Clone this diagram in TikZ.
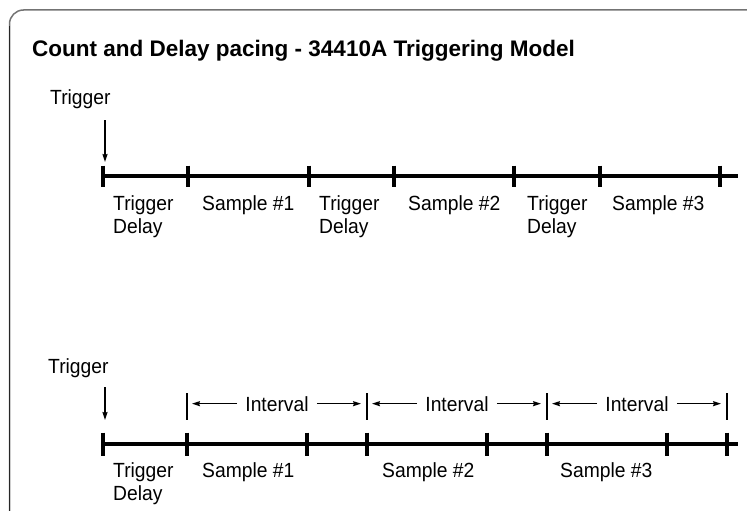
\documentclass[tikz,border=0pt]{standalone}
\usepackage{fontspec}
\setmainfont{Liberation Sans}[FakeStretch=0.94]
\newfontfamily\headfont{Liberation Sans}
\usetikzlibrary{arrows.meta,calc}

\begin{document}
\begin{tikzpicture}[x=1pt,y=-1pt,
  lbl/.style={anchor=base west, inner sep=0pt, align=left,
    font=\fontsize{20.5}{23.5}\selectfont},
  intv/.style={anchor=base, inner ysep=0pt, inner xsep=8pt,
    font=\fontsize{20.5}{23.5}\selectfont},
  axis/.style={line width=4.5pt},
  tickmark/.style={line width=4pt},
  bar/.style={line width=1.3pt},
  arr/.style={line width=1.3pt, -{Stealth[length=8pt,width=5pt,inset=1pt]}},
]
\useasboundingbox (0,0) rectangle (747,511);

% frame
\draw[line width=1.5pt, black!55, rounded corners=14pt] (9.5,511) -- (9.5,10) -- (747,10);
\draw[line width=1.5pt, black!85] (9.5,511) -- (9.5,26);

% title
\node[anchor=base west, inner sep=0pt, font=\headfont\bfseries\fontsize{22.5}{26}\selectfont]
  (title) at (32,57) {Count and Delay pacing - 34410A Triggering Model};

% ---------- count / delay timeline ----------
\coordinate (t1) at (103,176);
\coordinate (t2) at (188,176);
\coordinate (t3) at (309,176);
\coordinate (t4) at (394,176);
\coordinate (t5) at (514,176);
\coordinate (t6) at (600,176);
\coordinate (t7) at (720,176);
\coordinate (tend) at (738,176);

\node[lbl] (trigA) at (50,104) {Trigger};
\coordinate (arA1) at (105,120);
\coordinate (arA2) at (105,162);
\draw[arr] (arA1) -- (arA2);

\draw[axis] (t1) -- (tend);
\foreach \c in {t1,t2,t3,t4,t5,t6,t7}
  \draw[tickmark] ($(\c)+(0,-10.5)$) -- ($(\c)+(0,10.5)$);

% two-line labels are anchored at the baseline of their last line
\node[lbl] (tdA1) at ($(t1)+(10,57.5)$) {Trigger\\Delay};
\node[lbl] (smA1) at ($(t2)+(14,34)$) {Sample \#1};
\node[lbl] (tdA2) at ($(t3)+(10,57.5)$) {Trigger\\Delay};
\node[lbl] (smA2) at ($(t4)+(14,34)$) {Sample \#2};
\node[lbl] (tdA3) at ($(t5)+(13,57.5)$) {Trigger\\Delay};
\node[lbl] (smA3) at ($(t6)+(12,34)$) {Sample \#3};

% ---------- interval timeline ----------
\coordinate (b1) at (103,444);
\coordinate (b2) at (187,444);
\coordinate (b3) at (307,444);
\coordinate (b4) at (367,444);
\coordinate (b5) at (487,444);
\coordinate (b6) at (547,444);
\coordinate (b7) at (667,444);
\coordinate (b8) at (727,444);
\coordinate (bend) at (738,444);

\node[lbl] (trigB) at (48,373) {Trigger};
\coordinate (arB1) at (105,387);
\coordinate (arB2) at (105,420);
\draw[arr] (arB1) -- (arB2);

\draw[axis] (b1) -- (bend);
\foreach \c in {b1,b2,b3,b4,b5,b6,b7,b8}
  \draw[tickmark] ($(\c)+(0,-11.5)$) -- ($(\c)+(0,11.5)$);

% interval markers
\coordinate (v1) at (187,406.5);
\coordinate (v2) at (367,406.5);
\coordinate (v3) at (547,406.5);
\coordinate (v4) at (727,406.5);
\foreach \c in {v1,v2,v3,v4}
  \draw[bar] ($(\c)+(0,-13.5)$) -- ($(\c)+(0,13.5)$);

\node[intv] (iv1) at (277,411) {Interval};
\node[intv] (iv2) at (457,411) {Interval};
\node[intv] (iv3) at (637,411) {Interval};
\draw[arr, shorten >=5pt] (iv1.west) -- (iv1.west -| v1);
\draw[arr, shorten >=6pt] (iv1.east) -- (iv1.east -| v2);
\draw[arr, shorten >=5pt] (iv2.west) -- (iv2.west -| v2);
\draw[arr, shorten >=6pt] (iv2.east) -- (iv2.east -| v3);
\draw[arr, shorten >=5pt] (iv3.west) -- (iv3.west -| v3);
\draw[arr, shorten >=6pt] (iv3.east) -- (iv3.east -| v4);

\node[lbl] (tdB1) at ($(b1)+(10,56.5)$) {Trigger\\Delay};
\node[lbl] (smB1) at ($(b2)+(15,33)$) {Sample \#1};
\node[lbl] (smB2) at ($(b4)+(15,33)$) {Sample \#2};
\node[lbl] (smB3) at ($(b6)+(13,33)$) {Sample \#3};
\end{tikzpicture}
\end{document}
